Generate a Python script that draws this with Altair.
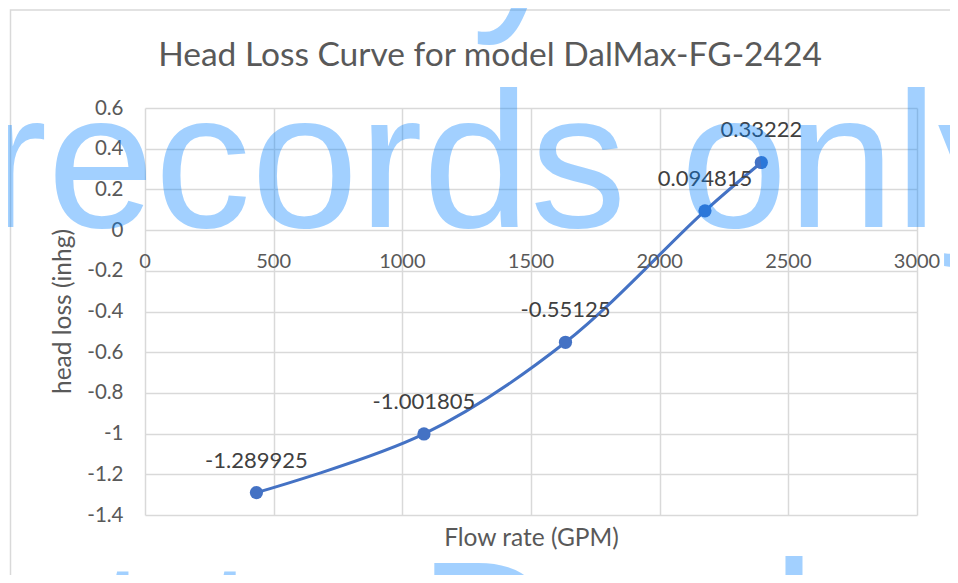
import altair as alt
import pandas as pd

# ---- data ----
flow = [433, 1084, 1634, 2176, 2395]
loss = [-1.289925, -1.001805, -0.55125, 0.094815, 0.33222]
point_labels = ["-1.289925", "-1.001805", "-0.55125", "0.094815", "0.33222"]

x_ticks = [0, 500, 1000, 1500, 2000, 2500, 3000]
x_tick_labels = ["0", "500", "1000", "1500", "2000", "2500", "3000"]
y_ticks = [-1.4, -1.2, -1.0, -0.8, -0.6, -0.4, -0.2, 0.0, 0.2, 0.4, 0.6]

title_text = "Head Loss Curve for model DalMax-FG-2424"
x_title = "Flow rate (GPM)"
y_title = "head loss (inhg)"
watermark_lines = ["Information Only", "records only", "Not to Dealer"]

df = pd.DataFrame({"flow": flow, "loss": loss, "lab": point_labels})
df_xt = pd.DataFrame({"v": x_ticks, "lab": x_tick_labels})

GRID = "#D9D9D9"
TXT = "#595959"
BLUE = "#4472C4"
FONT = "Lato"

xscale = alt.Scale(domain=[0, 3000], nice=False, zero=False)
yscale = alt.Scale(domain=[-1.4, 0.6], nice=False, zero=False)

xaxis = alt.Axis(values=x_ticks, labels=False, ticks=False, domain=False,
                 grid=True, gridColor=GRID, gridWidth=1.5,
                 title=x_title, titleFont=FONT, titleFontSize=24.5,
                 titleFontWeight="normal", titleColor=TXT,
                 titleBaseline="middle", titleY=23)
yaxis = alt.Axis(values=y_ticks, ticks=False, domain=False,
                 grid=True, gridColor=GRID, gridWidth=1.5,
                 labelFont=FONT, labelFontSize=20.5, labelColor=TXT,
                 labelPadding=22,
                 labelExpr="(datum.value < -1e-9 ? '-' : '') + format(abs(datum.value), '~g')",
                 title=y_title, titleFont=FONT, titleFontSize=24.5,
                 titleFontWeight="normal", titleColor=TXT,
                 titleAngle=-90, titleX=-82, titleY=203,
                 titleAlign="center", titleBaseline="middle")

base = alt.Chart(df)

line = base.mark_line(interpolate="catmull-rom", color=BLUE, strokeWidth=3).encode(
    x=alt.X("flow:Q", scale=xscale, axis=xaxis),
    y=alt.Y("loss:Q", scale=yscale, axis=yaxis),
)
points = base.mark_point(filled=True, size=175, color=BLUE, opacity=1).encode(
    x="flow:Q", y="loss:Q"
)
plabels = base.mark_text(font=FONT, fontSize=22, color="#404040",
                         baseline="alphabetic", align="center", dy=-25).encode(
    x="flow:Q", y="loss:Q", text="lab:N"
)
xlabels = alt.Chart(df_xt).mark_text(font=FONT, fontSize=20, color=TXT,
                                     baseline="middle", align="center", dy=32).encode(
    x=alt.X("v:Q"), y=alt.datum(0), text="lab:N"
)

title = alt.Chart(pd.DataFrame({"t": [title_text]})).mark_text(
    font=FONT, fontSize=33.5, color=TXT, align="center", baseline="alphabetic"
).encode(x=alt.value(345), y=alt.value(-42), text="t:N")

border = alt.Chart(pd.DataFrame({"a": [1]})).mark_rect(
    filled=False, stroke=GRID, strokeWidth=1.5
).encode(x=alt.value(-134.5), x2=alt.value(860), y=alt.value(-98), y2=alt.value(620))

wm_style = dict(font="Liberation Sans", fontSize=193, color="#0080FF",
                opacity=0.36, baseline="alphabetic")
wm1 = alt.Chart(pd.DataFrame({"t": [watermark_lines[0]]})).mark_text(
    align="right", **wm_style).encode(x=alt.value(423), y=alt.value(-103), text="t:N")
wm2 = alt.Chart(pd.DataFrame({"t": [watermark_lines[1]]})).mark_text(
    align="left", **wm_style).encode(x=alt.value(-162), y=alt.value(119), text="t:N")
wm3 = alt.Chart(pd.DataFrame({"t": [watermark_lines[2]]})).mark_text(
    align="left", **wm_style).encode(x=alt.value(-295), y=alt.value(588), text="t:N")

chart = alt.layer(border, line, points, plabels, xlabels, title, wm1, wm2, wm3).properties(
    width=772, height=407,
    autosize=alt.AutoSizeParams(type="none"),
    padding={"left": 137, "top": 100, "right": 33, "bottom": 60},
    background="white",
).configure_view(stroke=None)

chart.save("out.html", embed_options={"renderer": "svg", "actions": False})
